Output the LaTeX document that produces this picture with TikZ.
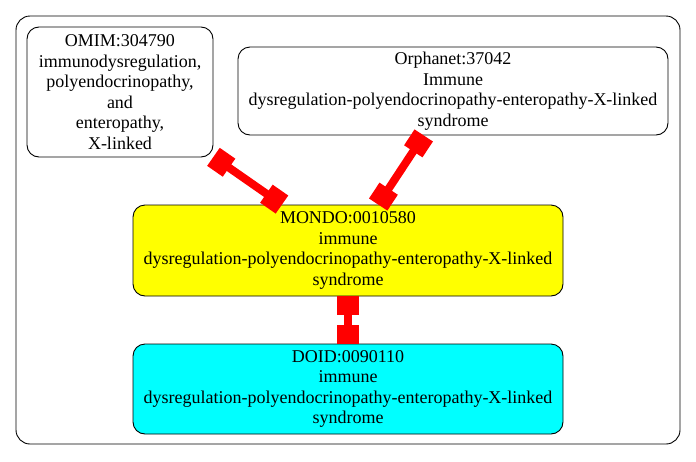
\documentclass[tikz,border=0pt]{standalone}
\usepackage{fontspec}
\setmainfont{Liberation Serif}
\usetikzlibrary{arrows.meta}
\definecolor{cyanfill}{RGB}{0,255,255}
\definecolor{yellowfill}{RGB}{255,255,0}
\definecolor{edgered}{RGB}{255,0,0}
\begin{document}
\begin{tikzpicture}[x=1pt,y=-1pt,
  box/.style={draw=black, line width=0.9pt, rounded corners=12pt, inner sep=0pt,
    align=center, font=\fontsize{18}{20.6}\selectfont},
  link/.style={draw=edgered, line width=8pt,
    {Rectangle[length=19pt,width=22pt]}-{Rectangle[length=19pt,width=22pt]}}]
\useasboundingbox (0,0) rectangle (696,461);
\draw[line width=0.9pt, rounded corners=14pt] (16,16) rectangle (680,444);
\node[box, minimum width=186pt, minimum height=130pt] (omim) at (120,92)
  {OMIM:304790\\immunodysregulation,\\polyendocrinopathy,\\and\\enteropathy,\\X-linked};
\node[box, minimum width=430pt, minimum height=88pt] (orpha) at (453,91)
  {Orphanet:37042\\Immune\\dysregulation-polyendocrinopathy-enteropathy-X-linked\\syndrome};
\node[box, fill=yellowfill, minimum width=430pt, minimum height=91pt] (mondo) at (348,250.5)
  {MONDO:0010580\\immune\\dysregulation-polyendocrinopathy-enteropathy-X-linked\\syndrome};
\node[box, fill=cyanfill, minimum width=430pt, minimum height=90pt] (doid) at (348,389)
  {DOID:0090110\\immune\\dysregulation-polyendocrinopathy-enteropathy-X-linked\\syndrome};
\draw[link] (omim) -- (mondo);
\draw[link] (orpha) -- (mondo);
\draw[link] (mondo) -- (doid);
\end{tikzpicture}
\end{document}
